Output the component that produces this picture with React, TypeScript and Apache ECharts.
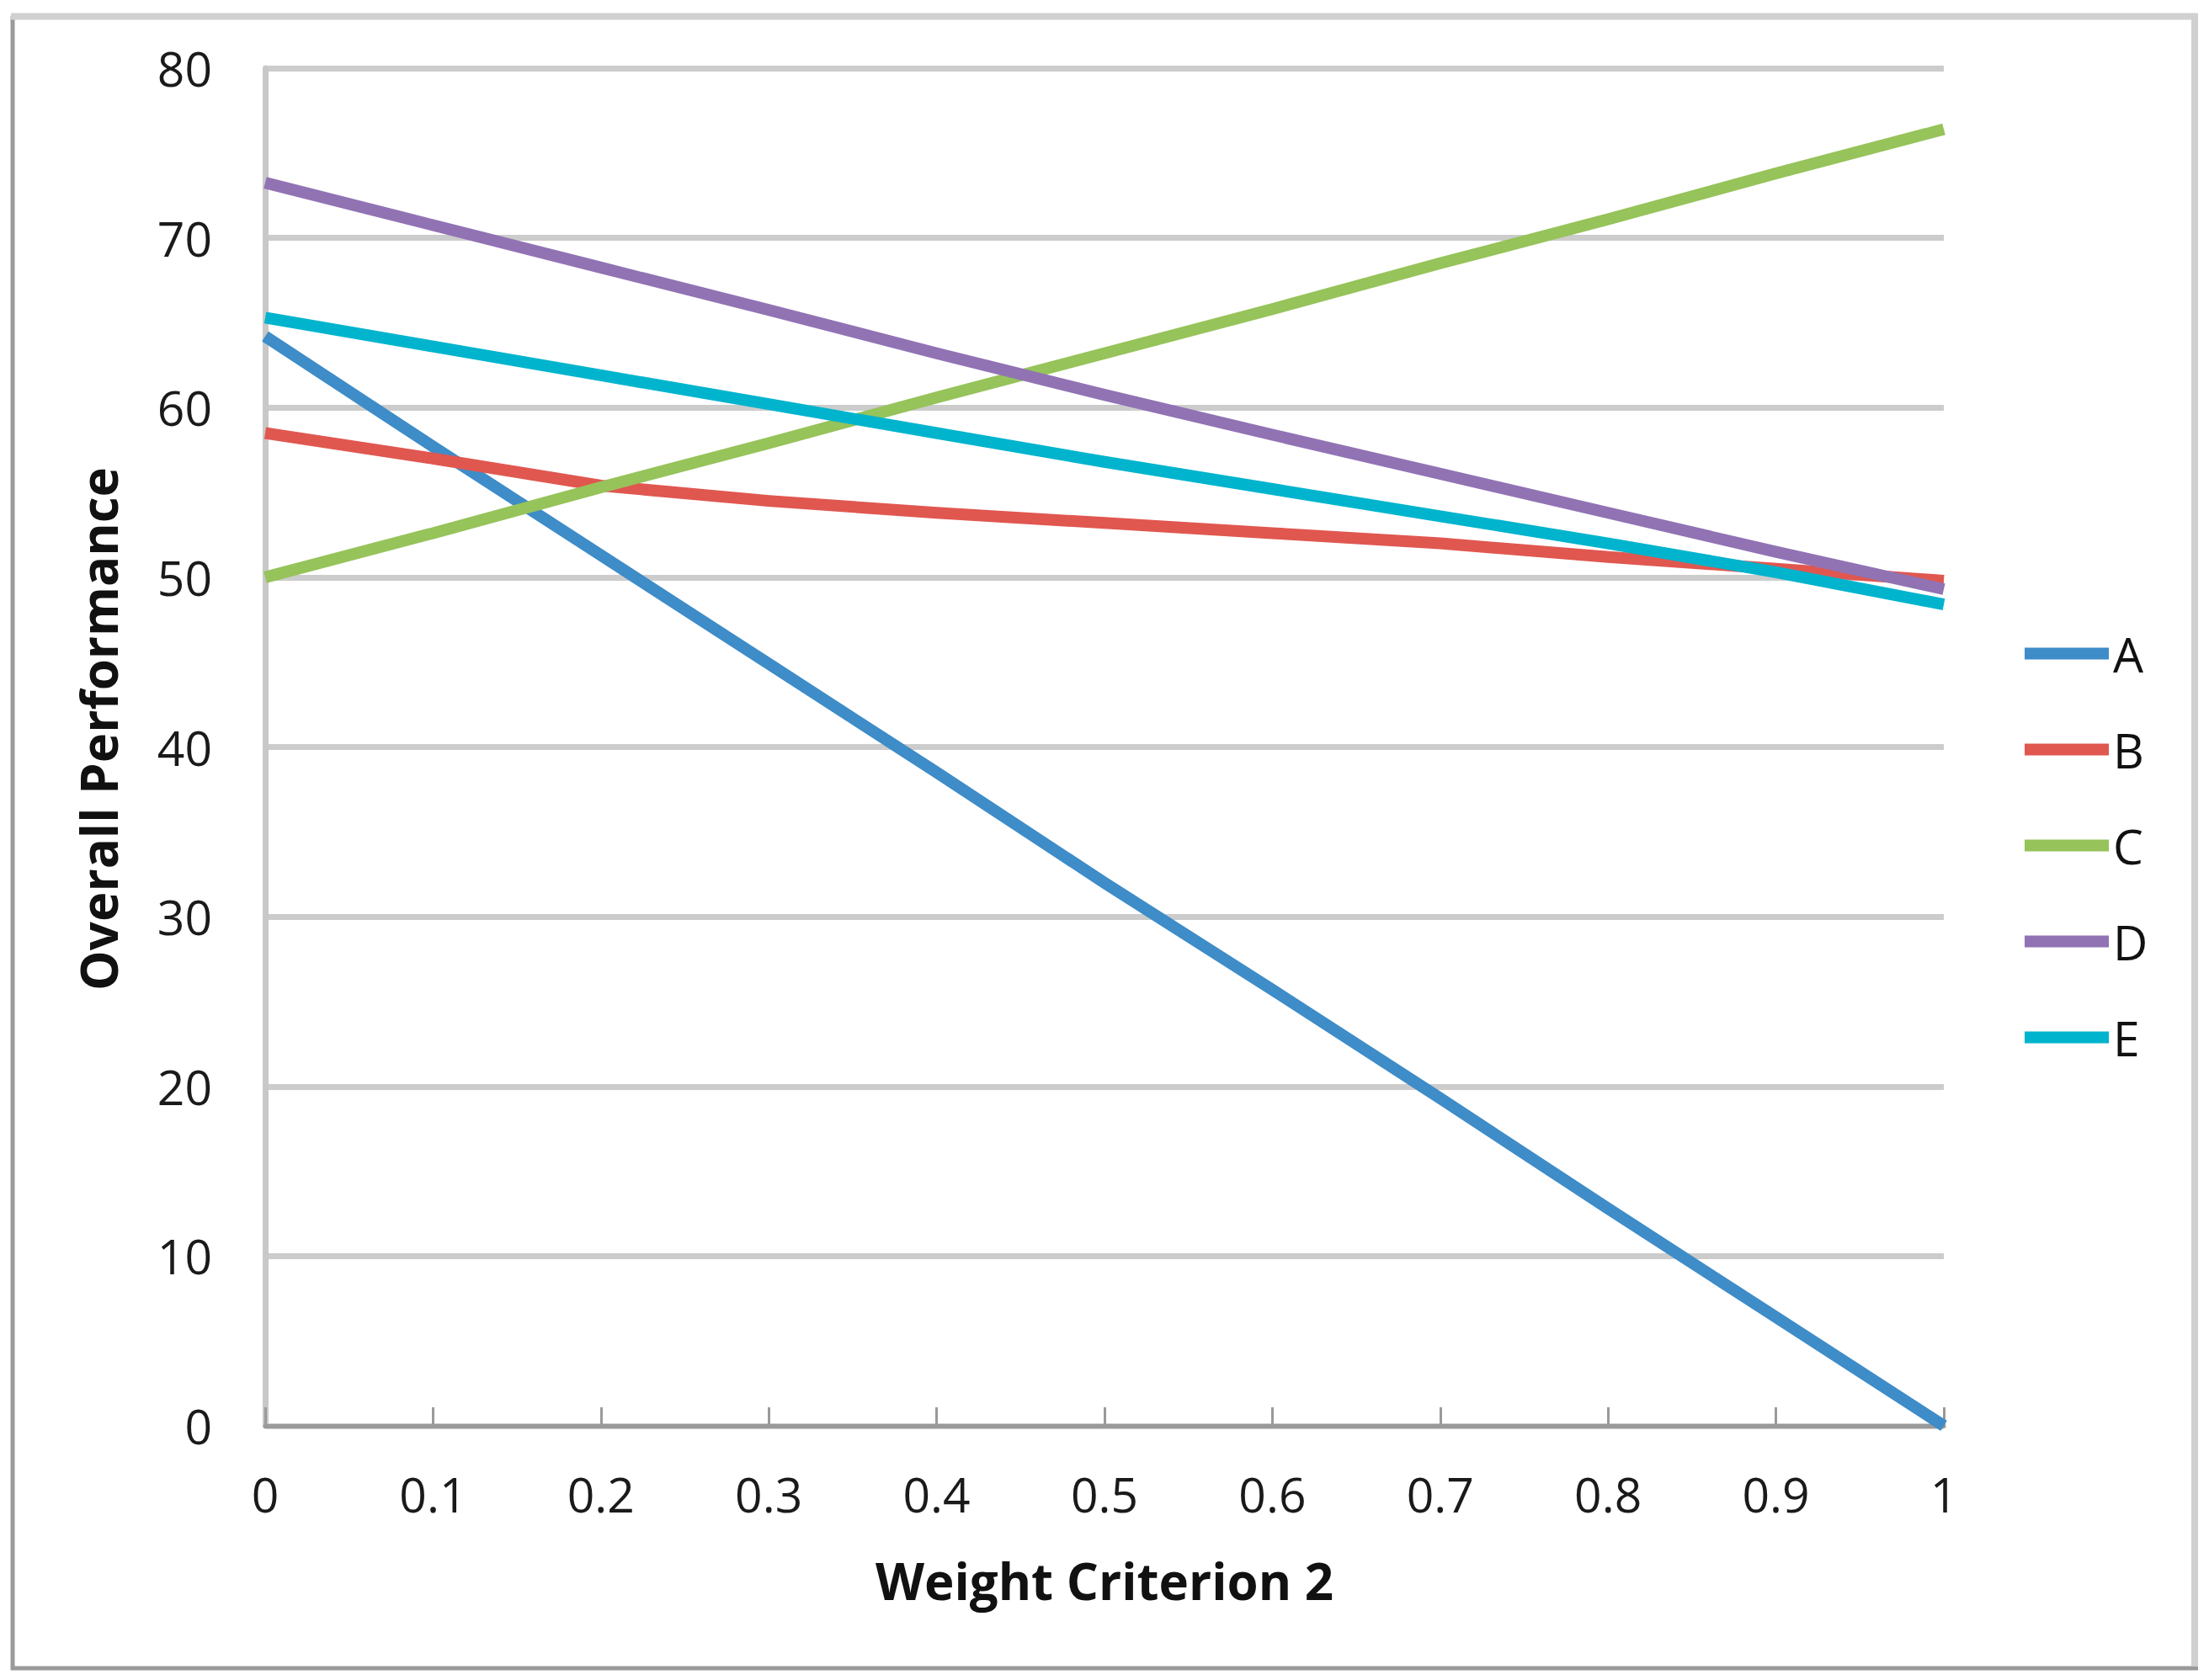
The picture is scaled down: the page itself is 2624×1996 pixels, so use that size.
import React, { useEffect, useRef } from "react";
import * as echarts from "echarts";

const weights = [0, 0.1, 0.2, 0.3, 0.4, 0.5, 0.6, 0.7, 0.8, 0.9, 1];
const seriesNames = ["A", "B", "C", "D", "E"];
const valuesA = [64.2, 57.7, 51.3, 44.9, 38.5, 32.0, 25.7, 19.3, 12.8, 6.4, 0];
const valuesB = [58.5, 57.0, 55.4, 54.5, 53.8, 53.2, 52.6, 52.0, 51.2, 50.5, 49.8];
const valuesC = [50.0, 52.6, 55.3, 57.9, 60.6, 63.2, 65.8, 68.5, 71.1, 73.8, 76.4];
const valuesD = [73.25, 70.75, 68.25, 65.75, 63.2, 60.75, 58.4, 56.1, 53.8, 51.5, 49.3];
const valuesE = [65.3, 63.6, 61.9, 60.2, 58.5, 56.8, 55.2, 53.6, 52.0, 50.3, 48.4];
const colors = ["#3e8cc8", "#e05750", "#96c35a", "#9173b4", "#00b4cd"];
const xTitle = "Weight Criterion 2";
const yTitle = "Overall Performance";

export default function App() {
  const ref = useRef<HTMLDivElement>(null);
  useEffect(() => {
    if (!ref.current) return;
    const chart = echarts.init(ref.current, undefined, { renderer: "svg" });
    const all = [valuesA, valuesB, valuesC, valuesD, valuesE];
    const font = "'Open Sans', 'Noto Sans', sans-serif";
    chart.setOption({
      animation: false,
      backgroundColor: "#ffffff",
      grid: { left: 315, top: 81, width: 1994, height: 1613, containLabel: false },
      xAxis: {
        type: "value",
        min: 0,
        max: 1,
        interval: 0.1,
        axisLine: { show: true, lineStyle: { color: "#9a9a9a", width: 5 } },
        axisTick: { show: true, inside: true, length: 22, lineStyle: { color: "#9a9a9a", width: 3 } },
        splitLine: { show: false },
        axisLabel: {
          fontSize: 57,
          color: "#1a1a1a",
          fontFamily: font,
          margin: 52,
          formatter: (v: number) => String(Math.round(v * 10) / 10),
        },
      },
      yAxis: {
        type: "value",
        min: 0,
        max: 80,
        interval: 10,
        axisLine: { show: true, lineStyle: { color: "#c8c8c8", width: 7 } },
        axisTick: { show: false },
        splitLine: { show: true, lineStyle: { color: "#cccccc", width: 7 } },
        axisLabel: {
          fontSize: 57,
          color: "#1a1a1a",
          fontFamily: font,
          margin: 63,
          padding: [10, 0, 0, 0],
        },
      },
      legend: {
        orient: "vertical",
        left: 2400,
        top: 743,
        icon: "rect",
        itemWidth: 100,
        itemHeight: 14,
        itemGap: 57,
        data: seriesNames,
        textStyle: { fontSize: 57, color: "#111", fontFamily: font, lineHeight: 40 },
      },
      series: seriesNames.map((name, i) => ({
        name,
        type: "line",
        showSymbol: false,
        symbol: "none",
        clip: false,
        color: colors[i],
        lineStyle: { width: 14, color: colors[i], join: "round" },
        data: weights.map((w, j) => [w, all[i][j]]),
      })),
      graphic: [
        { type: "line", shape: { x1: 15, y1: 19, x2: 15, y2: 1984 }, style: { stroke: "#9a9a9a", lineWidth: 5 } },
        { type: "line", shape: { x1: 13, y1: 1982, x2: 2611, y2: 1982 }, style: { stroke: "#9a9a9a", lineWidth: 5 } },
        { type: "line", shape: { x1: 13, y1: 19.5, x2: 2611, y2: 19.5 }, style: { stroke: "#d0d0d0", lineWidth: 8 } },
        { type: "line", shape: { x1: 2607, y1: 16, x2: 2607, y2: 1980 }, style: { stroke: "#d0d0d0", lineWidth: 8 } },
        {
          type: "text",
          x: 1312,
          y: 1878,
          style: { text: xTitle, fontSize: 60, fontWeight: "bold", fontFamily: font, fill: "#111", align: "center", verticalAlign: "middle" },
        },
        {
          type: "text",
          x: 117,
          y: 866,
          rotation: Math.PI / 2,
          style: { text: yTitle, fontSize: 60, fontWeight: "bold", fontFamily: font, fill: "#111", align: "center", verticalAlign: "middle" },
        },
      ],
    });
    return () => chart.dispose();
  }, []);
  return (
    <div
      ref={ref}
      style={{ position: "fixed", left: 0, top: 0, width: 2624, height: 1996, background: "#fff" }}
    />
  );
}
